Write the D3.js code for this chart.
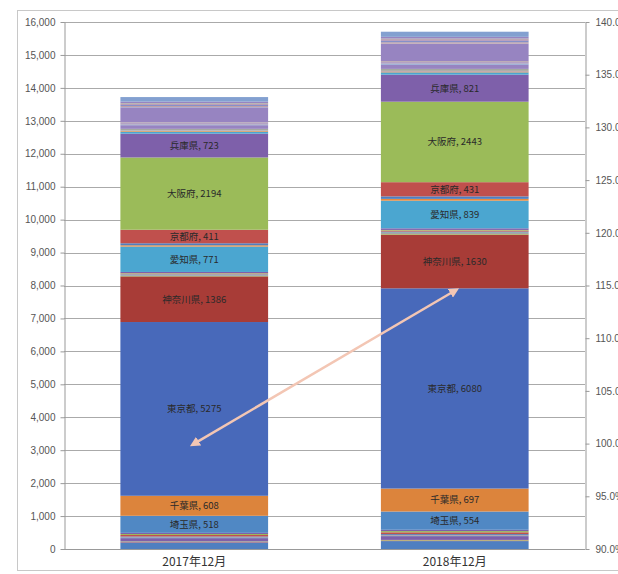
<!DOCTYPE html>
<html>
<head>
<meta charset="utf-8">
<script src="https://cdn.jsdelivr.net/npm/d3@7"></script>
<style>
  body { margin: 0; background: #fff; }
  svg { display: block; font-family: "Noto Sans CJK JP", "Noto Sans", sans-serif; }
  .axis text { fill: #555; font-size: 10px; font-family: "Liberation Sans", "Noto Sans", sans-serif; }
  .axis path, .axis line { stroke: #999; }
  .grid line { stroke: #aaa; }
</style>
</head>
<body>
<div id="chart"></div>
<script>
// カテゴリ（月）
const categories = ['2017年12月', '2018年12月'];

// 都道府県（系列、下から積み上げ順）
const prefectures = [
  '北海道','青森県','岩手県','宮城県','秋田県','山形県','福島県','茨城県','栃木県','群馬県',
  '埼玉県','千葉県','東京都','神奈川県','新潟県','富山県','石川県','福井県','山梨県','長野県',
  '岐阜県','静岡県','愛知県','三重県','滋賀県','京都府','大阪府','兵庫県','奈良県','和歌山県',
  '鳥取県','島根県','岡山県','広島県','山口県','徳島県','香川県','愛媛県','高知県','福岡県',
  '佐賀県','長崎県','熊本県','大分県','宮崎県','鹿児島県','沖縄県'
];

const values2017 = [
  200, 15, 15, 100, 10, 10, 30, 45, 30, 35,
  518, 608, 5275, 1386, 25, 10, 15, 5, 10, 20,
  14, 35, 771, 40, 60, 411, 2194, 723, 60, 20,
  8, 8, 50, 110, 20, 10, 25, 25, 10, 450,
  10, 30, 45, 30, 20, 40, 140
];

const values2018 = [
  240, 18, 18, 115, 12, 12, 37, 55, 37, 40,
  554, 697, 6080, 1630, 35, 14, 22, 7, 14, 30,
  20, 49, 839, 55, 76, 431, 2443, 821, 70, 25,
  10, 10, 60, 130, 25, 12, 30, 30, 12, 520,
  12, 36, 55, 36, 25, 50, 156
];

// 前年比（%）
const ratio = [100.0, 114.5];

// ラベル表示する都道府県
const labeled = ['埼玉県','千葉県','東京都','神奈川県','愛知県','京都府','大阪府','兵庫県'];

const leftTicks = d3.range(0, 16001, 1000);
const rightTicks = d3.range(90, 140.1, 5);

const width = 618, height = 574;
const margin = {top: 22, right: 33, bottom: 25, left: 64};
const x0 = margin.left, x1 = width - margin.right;
const yBottom = height - margin.bottom, yTop = margin.top;

const svg = d3.select('#chart').append('svg')
  .attr('width', width).attr('height', height);

// 外枠
svg.append('rect')
  .attr('x', 17.5).attr('y', 10.5)
  .attr('width', 640).attr('height', 560)
  .attr('fill', 'none').attr('stroke', '#c8c8c8');

const xScale = d3.scaleBand().domain(categories)
  .range([x0, x1]).paddingInner(0.433).paddingOuter(0.2165);
const yScale = d3.scaleLinear().domain([0, 16000]).range([yBottom, yTop]);
const y2Scale = d3.scaleLinear().domain([90, 140]).range([yBottom, yTop]);

// 系列の色（Excel 風パレットを循環）
const base = ['#4f7fc0','#c0504d','#9bbb59','#7e60aa','#4ba6d0','#e88a3e'];
function colorOf(i) {
  const c = base[i % 6];
  if (i >= 30) return d3.interpolateRgb(c, '#a89cd0')(0.6);
  if (i === 12) return '#4869ba';
  if (i === 13) return '#a83c37';
  if (i === 10) return '#5088c4';
  if (i === 11) return '#dc843c';
  return c;
}
const color = d3.scaleOrdinal().domain(prefectures)
  .range(prefectures.map((p, i) => colorOf(i)));

// グリッド線
svg.append('g').attr('class', 'grid')
  .selectAll('line').data(leftTicks).join('line')
  .attr('x1', x0).attr('x2', x1)
  .attr('y1', d => Math.round(yScale(d)) + 0.5)
  .attr('y2', d => Math.round(yScale(d)) + 0.5);

// 積み上げデータ
const table = categories.map((c, ci) => {
  const row = {cat: c};
  prefectures.forEach((p, i) => { row[p] = ci === 0 ? values2017[i] : values2018[i]; });
  return row;
});
const series = d3.stack().keys(prefectures)(table);

const layers = svg.append('g').selectAll('g').data(series).join('g')
  .attr('fill', d => color(d.key));
layers.selectAll('rect').data(d => d).join('rect')
  .attr('x', d => xScale(d.data.cat))
  .attr('width', xScale.bandwidth())
  .attr('y', d => yScale(d[1]))
  .attr('height', d => yScale(d[0]) - yScale(d[1]));

// データラベル
const labelData = [];
series.forEach(s => {
  if (!labeled.includes(s.key)) return;
  s.forEach(v => labelData.push({key: s.key, cat: v.data.cat, y0: v[0], y1: v[1]}));
});
svg.append('g').selectAll('text').data(labelData).join('text')
  .attr('x', d => xScale(d.cat) + xScale.bandwidth() / 2)
  .attr('y', d => yScale((d.y0 + d.y1) / 2))
  .attr('dy', '0.35em')
  .attr('text-anchor', 'middle')
  .style('font-size', '9.5px')
  .style('fill', '#2a2a2a')
  .text(d => `${d.key}, ${d.y1 - d.y0}`);

// 左軸
const yAxis = d3.axisLeft(yScale).tickValues(leftTicks)
  .tickFormat(d3.format(',')).tickSizeInner(4).tickSizeOuter(0).tickPadding(5);
svg.append('g').attr('class', 'axis')
  .attr('transform', `translate(${x0 + 0.5},0)`).call(yAxis);

// 右軸（ラベルは元図同様に右端で切れる）
const y2Axis = d3.axisRight(y2Scale).tickValues(rightTicks)
  .tickFormat(d => d3.format('.1f')(d) + '%').tickSizeInner(4).tickSizeOuter(0).tickPadding(6);
svg.append('g').attr('class', 'axis')
  .attr('transform', `translate(${x1 + 0.5},0)`).call(y2Axis);

// 下軸（線のみ）+ カテゴリ名
svg.append('line')
  .attr('x1', x0).attr('x2', x1)
  .attr('y1', yBottom + 0.5).attr('y2', yBottom + 0.5)
  .attr('stroke', '#999');
svg.append('g').selectAll('text').data(categories).join('text')
  .attr('x', d => xScale(d) + xScale.bandwidth() / 2)
  .attr('y', yBottom + 17)
  .attr('text-anchor', 'middle')
  .style('font-size', '12px')
  .style('fill', '#333')
  .text(d => d);

// 前年比の矢印線
svg.append('defs').append('marker')
  .attr('id', 'arrow')
  .attr('viewBox', '0 0 10 10')
  .attr('refX', 5).attr('refY', 5)
  .attr('markerWidth', 4).attr('markerHeight', 4)
  .attr('orient', 'auto-start-reverse')
  .append('path').attr('d', 'M0,0 L10,5 L0,10 Z').attr('fill', '#f3c6b4');

const line = d3.line()
  .x((d, i) => xScale(categories[i]) + xScale.bandwidth() / 2)
  .y(d => y2Scale(d));
svg.append('path').datum(ratio)
  .attr('d', line)
  .attr('fill', 'none')
  .attr('stroke', '#f3c6b4')
  .attr('stroke-width', 2.5)
  .attr('marker-start', 'url(#arrow)')
  .attr('marker-end', 'url(#arrow)');
</script>
</body>
</html>
